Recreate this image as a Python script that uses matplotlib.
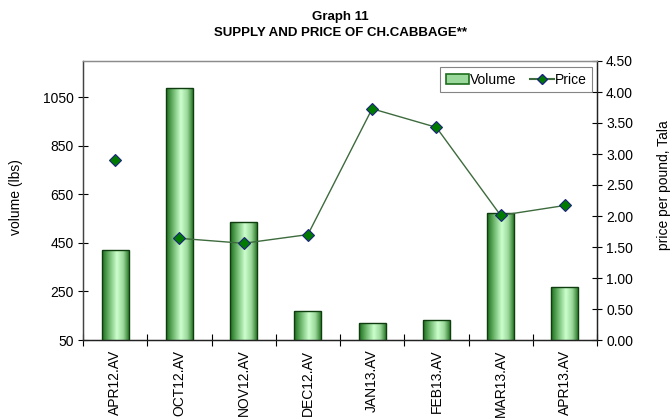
import numpy as np
import matplotlib
matplotlib.use("Agg")
import matplotlib.pyplot as plt
from matplotlib.colors import LinearSegmentedColormap
from matplotlib.patches import Patch
from matplotlib.lines import Line2D
from matplotlib.ticker import FormatStrFormatter

plt.rcParams['font.family'] = ['Liberation Sans', 'DejaVu Sans']

categories = ['APR12.AV', 'OCT12.AV', 'NOV12.AV', 'DEC12.AV',
              'JAN13.AV', 'FEB13.AV', 'MAR13.AV', 'APR13.AV']
volume = [420, 1088, 536, 168, 119, 131, 573, 268]
price = [2.90, 1.64, 1.56, 1.70, 3.73, 3.43, 2.01, 2.17]

vol_ticks = [50, 250, 450, 650, 850, 1050]
price_ticks = [0, 0.5, 1.0, 1.5, 2.0, 2.5, 3.0, 3.5, 4.0, 4.5]

fig = plt.figure(figsize=(6.71, 4.19), dpi=100)
ax = fig.add_axes([83 / 671, 79 / 419, 514 / 671, 279 / 419])
ax2 = ax.twinx()

x = np.arange(len(categories))

# bars with a horizontal green gradient
bar_cmap = LinearSegmentedColormap.from_list(
    'bar', [(0.0, '#1e6e1e'), (0.2, '#5aa85a'), (0.55, '#ccffcc'),
            (0.8, '#9bd89b'), (1.0, '#2e7d2e')])
grad = np.linspace(0, 1, 64).reshape(1, -1)
bars = ax.bar(x, volume, width=0.42, facecolor='none', edgecolor='#0f3d0f',
              linewidth=1.0, zorder=3)
for b in bars:
    x0, y0, w, h = b.get_x(), b.get_y(), b.get_width(), b.get_height()
    ax.imshow(grad, extent=[x0, x0 + w, y0, y0 + h], aspect='auto',
              cmap=bar_cmap, zorder=2, interpolation='bicubic')

ax.set_xlim(-0.5, len(categories) - 0.5)
ax.set_ylim(50, 1200)
ax.set_yticks(vol_ticks)
ax.set_xticks(np.arange(-0.5, len(categories), 1.0))
ax.set_xticklabels([])
ax.set_xticks(x, minor=True)
ax.set_xticklabels(categories, minor=True, rotation=90, va='top', fontsize=10)
ax.tick_params(axis='x', which='major', direction='inout', length=8, width=0.8)
ax.tick_params(axis='x', which='minor', length=0, pad=7)
ax.tick_params(axis='y', direction='inout', length=7, width=0.8, labelsize=10, pad=3)

# price line (no value between APR12 and OCT12)
ax2.plot(x[1:], price[1:], color='#3d6b3d', linewidth=1.0, zorder=4)
ax2.plot(x, price, linestyle='none', marker='D', markersize=6.5,
         markerfacecolor='#007a00', markeredgecolor='#1a237e',
         markeredgewidth=0.8, zorder=5)
ax2.set_ylim(0, 4.5)
ax2.set_yticks(price_ticks)
ax2.yaxis.set_major_formatter(FormatStrFormatter('%.2f'))
ax2.tick_params(axis='y', direction='inout', length=7, width=0.8, labelsize=10, pad=3)

for a in (ax, ax2):
    a.spines['top'].set_color('#8c8c8c')
    a.spines['left'].set_color('#444444')
    a.spines['right'].set_color('#222222')
    a.spines['bottom'].set_color('#222222')
    for s in a.spines.values():
        s.set_linewidth(0.9)

fig.text(16 / 671, 1 - 197 / 419, 'volume (lbs)', rotation=90,
         ha='center', va='center', fontsize=10)
fig.text(664 / 671, 1 - 185 / 419, 'price per pound, Tala', rotation=90,
         ha='center', va='center', fontsize=10)
fig.text(340 / 671, 1 - 25 / 419, 'Graph 11\nSUPPLY AND PRICE OF CH.CABBAGE**',
         ha='center', va='center', fontsize=9.5, fontweight='bold', linespacing=1.35)

handles = [Patch(facecolor='#9bd89b', edgecolor='#1e6e1e', linewidth=1.2),
           Line2D([], [], color='#3d6b3d', marker='D', markersize=5,
                  markerfacecolor='#007a00', markeredgecolor='#1a237e')]
leg = ax2.legend(handles, ['Volume', 'Price'], loc='upper right',
                 bbox_to_anchor=(592 / 671, 1 - 67 / 419),
                 bbox_transform=fig.transFigure, ncol=2, fontsize=10,
                 frameon=True, fancybox=False, handlelength=1.7,
                 handletextpad=0.05, columnspacing=1.0, borderpad=0.4,
                 borderaxespad=0)
leg.get_frame().set_edgecolor('#666666')
leg.get_frame().set_linewidth(0.8)

fig.savefig('out.png', dpi=100)
